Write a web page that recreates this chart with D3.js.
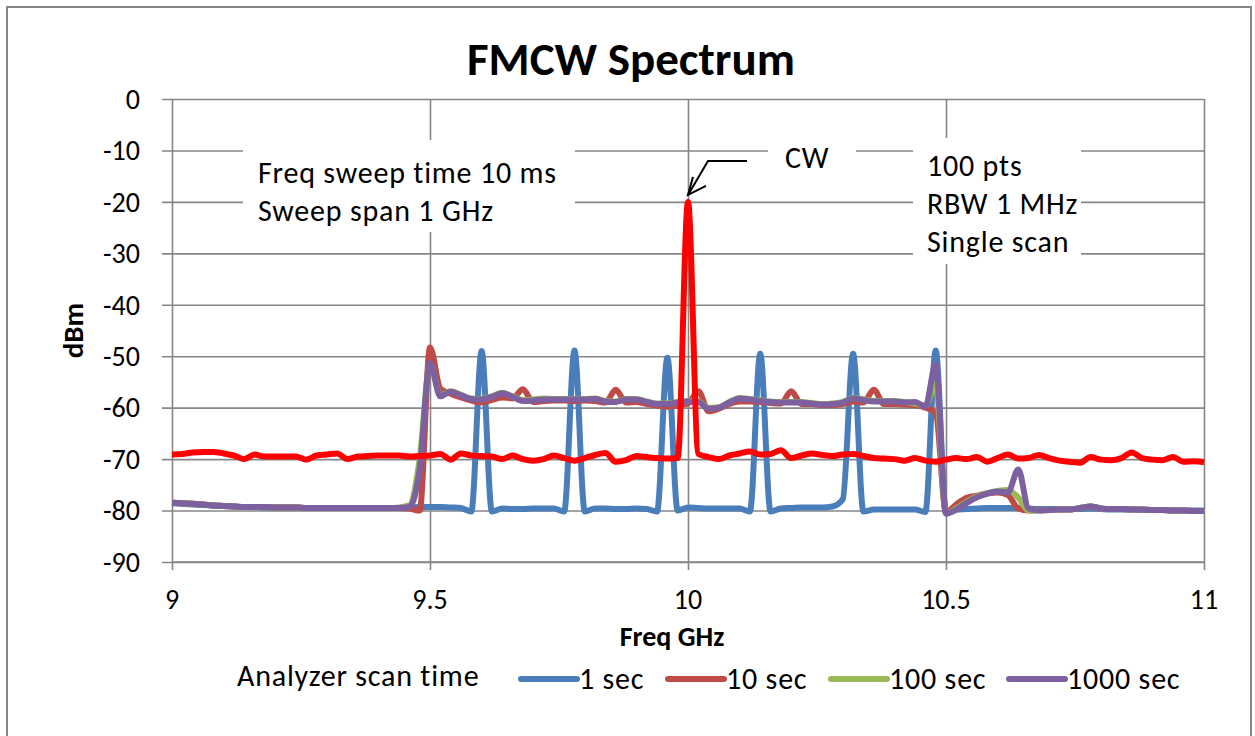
<!DOCTYPE html>
<html>
<head>
<meta charset="utf-8">
<script src="https://cdn.jsdelivr.net/npm/d3@7"></script>
<style>
  body { margin: 0; background: #fff; }
  text { font-family: Carlito, Calibri, Lato, sans-serif; fill: #000; }
</style>
</head>
<body>
<div id="chart"></div>
<script>
// Frequency axis: 101 points, 9 to 11 GHz
var freqs = d3.range(101).map(function(i) { return +(9 + i * 0.02).toFixed(2); });

var sec1 = [
  -78.6, -78.7, -78.8, -78.9, -79.0, -79.1, -79.2, -79.3, -79.3, -79.4,
  -79.4, -79.4, -79.4, -79.5, -79.5, -79.5, -79.5, -79.5, -79.5, -79.5,
  -79.5, -79.5, -79.5, -79.4, -79.3, -79.3, -79.3, -79.4, -79.5, -80.2,
  -49.0, -80.2, -79.6, -79.7, -79.7, -79.6, -79.6, -79.6, -80.2, -48.9,
  -80.2, -79.6, -79.6, -79.7, -79.7, -79.6, -79.7, -80.2, -50.3, -80.0,
  -79.4, -79.5, -79.6, -79.6, -79.6, -79.6, -80.2, -49.5, -80.2, -79.6,
  -79.5, -79.4, -79.4, -79.4, -79.2, -77.8, -49.5, -80.2, -79.8, -79.8,
  -79.8, -79.8, -79.8, -80.3, -48.9, -80.3, -79.8, -79.7, -79.6, -79.5,
  -79.5, -79.5, -79.5, -79.6, -79.7, -79.7, -79.7, -79.7, -79.7, -79.6,
  -79.7, -79.8, -79.8, -79.8, -79.9, -79.9, -79.9, -80.0, -80.0, -80.0,
  -80.0
];

var sec10 = [
  -78.5, -78.6, -78.7, -78.8, -79.0, -79.1, -79.2, -79.3, -79.3, -79.3,
  -79.4, -79.4, -79.4, -79.5, -79.5, -79.5, -79.5, -79.5, -79.5, -79.5,
  -79.5, -79.5, -79.5, -79.6, -80.0, -48.3, -56.3, -57.3, -58.0, -58.6,
  -59.0, -58.5, -58.0, -58.2, -56.4, -58.9, -58.7, -58.6, -58.6, -58.7,
  -58.6, -58.7, -59.0, -56.5, -59.0, -58.9, -59.3, -59.6, -59.8, -59.6,
  -59.2, -56.8, -60.7, -60.2, -59.3, -58.8, -58.8, -58.9, -59.1, -59.2,
  -56.8, -59.3, -59.3, -59.5, -59.5, -59.3, -58.8, -59.0, -56.5, -59.3,
  -59.3, -59.4, -59.5, -60.0, -61.0, -80.3, -78.8, -77.5, -77.1, -76.7,
  -76.5, -77.0, -79.6, -80.0, -79.9, -79.9, -79.8, -79.8, -79.5, -79.2,
  -79.6, -79.7, -79.7, -79.8, -79.8, -79.9, -79.9, -80.0, -80.0, -80.1,
  -80.1
];

var sec100 = [
  -78.5, -78.6, -78.7, -78.8, -79.0, -79.1, -79.2, -79.3, -79.3, -79.3,
  -79.4, -79.4, -79.4, -79.5, -79.5, -79.5, -79.5, -79.5, -79.5, -79.5,
  -79.5, -79.5, -79.4, -79.0, -70.0, -51.5, -57.6, -56.8, -57.5, -58.2,
  -58.3, -57.8, -57.1, -57.8, -58.5, -58.4, -58.2, -58.3, -58.3, -58.3,
  -58.3, -58.2, -58.7, -58.8, -58.3, -58.3, -58.8, -59.2, -59.2, -58.9,
  -58.7, -58.8, -60.0, -59.9, -58.9, -58.1, -58.3, -58.6, -58.8, -58.9,
  -58.9, -58.9, -59.1, -59.3, -59.2, -58.9, -58.1, -58.4, -58.7, -58.7,
  -58.7, -58.9, -59.2, -59.6, -55.5, -80.5, -79.6, -78.3, -77.2, -76.6,
  -76.2, -76.0, -77.5, -80.0, -80.0, -79.9, -79.8, -79.8, -79.5, -79.2,
  -79.6, -79.7, -79.7, -79.8, -79.8, -79.9, -79.9, -80.0, -80.0, -80.1,
  -80.1
];

var sec1000 = [
  -78.5, -78.6, -78.7, -78.8, -79.0, -79.1, -79.2, -79.3, -79.3, -79.3,
  -79.4, -79.4, -79.4, -79.5, -79.5, -79.5, -79.5, -79.5, -79.5, -79.5,
  -79.5, -79.5, -79.5, -79.3, -72.0, -51.3, -57.8, -56.9, -57.6, -58.3,
  -58.4, -57.9, -57.2, -57.9, -58.7, -58.6, -58.4, -58.4, -58.4, -58.4,
  -58.4, -58.3, -58.8, -58.9, -58.4, -58.4, -58.9, -59.3, -59.3, -59.0,
  -58.8, -58.9, -60.2, -60.0, -59.0, -58.2, -58.4, -58.7, -58.9, -59.0,
  -59.0, -59.0, -59.2, -59.4, -59.3, -59.0, -58.2, -58.5, -58.8, -58.8,
  -58.8, -59.0, -58.9, -59.8, -51.6, -80.6, -79.8, -78.5, -77.4, -76.7,
  -76.3, -76.5, -72.0, -79.6, -80.0, -79.9, -79.8, -79.8, -79.5, -79.2,
  -79.6, -79.7, -79.7, -79.8, -79.8, -79.9, -79.9, -80.0, -80.0, -80.1,
  -80.1
];

var cw = [
  -69.1, -69.0, -68.7, -68.6, -68.6, -68.9, -69.3, -70.0, -69.1, -69.5,
  -69.5, -69.5, -69.5, -70.1, -69.3, -69.1, -68.9, -70.0, -69.5, -69.4,
  -69.3, -69.3, -69.3, -69.5, -69.4, -69.3, -69.0, -70.1, -68.9, -69.3,
  -69.4, -69.5, -70.0, -69.3, -70.0, -70.3, -70.0, -69.3, -69.8, -70.3,
  -69.8, -69.2, -68.8, -70.5, -70.2, -69.4, -69.6, -69.8, -69.9, -69.8,
  -20.0, -69.0, -69.6, -70.0, -69.3, -68.9, -68.5, -69.1, -69.0, -68.3,
  -69.8, -69.3, -68.9, -69.2, -69.4, -69.1, -69.0, -69.4, -69.8, -69.9,
  -70.0, -70.3, -69.8, -70.3, -70.5, -70.1, -69.8, -70.0, -69.6, -70.5,
  -69.8, -69.1, -69.9, -69.8, -69.2, -69.8, -70.3, -70.5, -70.7, -69.6,
  -70.1, -70.2, -69.8, -68.7, -69.8, -70.1, -70.2, -69.6, -70.5, -70.4,
  -70.6
];

var seriesNames = ["1 sec", "10 sec", "100 sec", "1000 sec"];
var seriesColors = ["#4A7EBB", "#BE4B48", "#98B954", "#7D60A0"];
var seriesValues = [sec1, sec10, sec100, sec1000];

var xTicks = [9, 9.5, 10, 10.5, 11];
var yTicks = [0, -10, -20, -30, -40, -50, -60, -70, -80, -90];

var width = 1255, height = 736;
var margin = {top: 99, left: 172, right: 51, bottom: 174};

var svg = d3.select("#chart").append("svg")
  .attr("width", width)
  .attr("height", height);

// outer chart border
svg.append("rect")
  .attr("x", 7).attr("y", 7)
  .attr("width", 1244).attr("height", 740)
  .attr("fill", "#fff")
  .attr("stroke", "#868686")
  .attr("stroke-width", 2);

var x = d3.scaleLinear().domain([9, 11]).range([margin.left, width - margin.right]);
var y = d3.scaleLinear().domain([-90, 0]).range([height - margin.bottom, margin.top]);

var grid = "#868686";

// horizontal gridlines with outward ticks
svg.append("g")
  .attr("transform", "translate(" + margin.left + ",0)")
  .call(d3.axisLeft(y).tickValues(yTicks).tickSize(-(x(11) - x(9))).tickFormat(""))
  .call(function(g) {
    g.select(".domain").remove();
    g.selectAll(".tick line").attr("stroke", grid).attr("stroke-width", 1.6).attr("x1", -10);
  });

// vertical gridlines
svg.append("g")
  .attr("transform", "translate(0," + y(-90) + ")")
  .call(d3.axisBottom(x).tickValues(xTicks).tickSize(-(y(-90) - y(0))).tickFormat(""))
  .call(function(g) {
    g.select(".domain").remove();
    g.selectAll(".tick line").attr("stroke", grid).attr("stroke-width", 1.6).attr("y1", 8);
  });

// bottom axis line
svg.append("line")
  .attr("x1", x(9)).attr("x2", x(11))
  .attr("y1", y(-90)).attr("y2", y(-90))
  .attr("stroke", grid).attr("stroke-width", 1.6);

// tick labels
svg.append("g").selectAll("text")
  .data(yTicks).enter().append("text")
  .attr("x", 140)
  .attr("y", function(d) { return y(d); })
  .attr("dy", "0.35em")
  .attr("text-anchor", "end")
  .style("font-size", "28px")
  .text(function(d) { return d; });

svg.append("g").selectAll("text")
  .data(xTicks).enter().append("text")
  .attr("x", function(d) { return x(d); })
  .attr("y", 609)
  .attr("text-anchor", "middle")
  .style("font-size", "28px")
  .text(function(d) { return d; });

// annotation boxes (white background hides gridlines)
svg.append("rect").attr("x", 243).attr("y", 140).attr("width", 332).attr("height", 92).attr("fill", "#fff");
svg.append("rect").attr("x", 768).attr("y", 138).attr("width", 88).attr("height", 40).attr("fill", "#fff");
svg.append("rect").attr("x", 913).attr("y", 138).attr("width", 168).attr("height", 126).attr("fill", "#fff");

// series lines
var line = d3.line()
  .x(function(d) { return x(d[0]); })
  .y(function(d) { return y(d[1]); })
  .curve(d3.curveMonotoneX);

seriesValues.forEach(function(vals, k) {
  svg.append("path")
    .datum(freqs.map(function(f, i) { return [f, vals[i]]; }))
    .attr("fill", "none")
    .attr("stroke", seriesColors[k])
    .attr("stroke-width", 6)
    .attr("stroke-linejoin", "round")
    .attr("d", line);
});

// CW trace (not in legend)
svg.append("path")
  .datum(freqs.map(function(f, i) { return [f, cw[i]]; }))
  .attr("fill", "none")
  .attr("stroke", "#FF0000")
  .attr("stroke-width", 6)
  .attr("stroke-linejoin", "round")
  .attr("d", line);

// title
svg.append("text")
  .attr("x", 631).attr("y", 75)
  .attr("text-anchor", "middle")
  .style("font-size", "47px").style("font-weight", "bold")
  .text("FMCW Spectrum");

// axis titles
svg.append("text")
  .attr("transform", "translate(83," + y(-45) + ") rotate(-90)")
  .attr("text-anchor", "middle")
  .style("font-size", "29px").style("font-weight", "bold")
  .text("dBm");

svg.append("text")
  .attr("x", 672).attr("y", 646)
  .attr("text-anchor", "middle")
  .style("font-size", "28px").style("font-weight", "bold")
  .text("Freq GHz");

// annotations
var notesLeft = ["Freq sweep time 10 ms", "Sweep span 1 GHz"];
var notesRight = ["100 pts", "RBW 1 MHz", "Single scan"];

var noteStyle = function(sel) {
  sel.style("font-size", "30px").style("letter-spacing", "0.8px");
};

svg.append("g").selectAll("text")
  .data(notesLeft).enter().append("text")
  .attr("x", 258)
  .attr("y", function(d, i) { return 183 + i * 38; })
  .call(noteStyle)
  .text(function(d) { return d; });

svg.append("g").selectAll("text")
  .data(notesRight).enter().append("text")
  .attr("x", 927)
  .attr("y", function(d, i) { return 176 + i * 38; })
  .call(noteStyle)
  .text(function(d) { return d; });

svg.append("text")
  .attr("x", 785).attr("y", 168)
  .call(noteStyle)
  .text("CW");

// arrow pointing at CW peak
var tipX = x(10), tipY = y(-20) - 7;
svg.append("path")
  .attr("d", "M747,161 L708,161 L" + tipX + "," + tipY)
  .attr("fill", "none").attr("stroke", "#000").attr("stroke-width", 2);
svg.append("path")
  .attr("d", "M" + (tipX + 5) + "," + (tipY - 18) + " L" + tipX + "," + tipY + " L" + (tipX + 18) + "," + (tipY - 9))
  .attr("fill", "none").attr("stroke", "#000").attr("stroke-width", 2);

// legend
svg.append("text")
  .attr("x", 237).attr("y", 686)
  .call(noteStyle)
  .text("Analyzer scan time");

var legendX = [521, 668, 831, 1009];
var legend = svg.append("g").selectAll("g")
  .data(seriesNames).enter().append("g")
  .attr("transform", function(d, i) { return "translate(" + legendX[i] + ",679)"; });
legend.append("line")
  .attr("x1", 0).attr("x2", 56)
  .attr("stroke", function(d, i) { return seriesColors[i]; })
  .attr("stroke-width", 6)
  .attr("stroke-linecap", "round");
legend.append("text")
  .attr("x", 58).attr("y", 10)
  .call(noteStyle)
  .text(function(d) { return d; });
</script>
</body>
</html>
